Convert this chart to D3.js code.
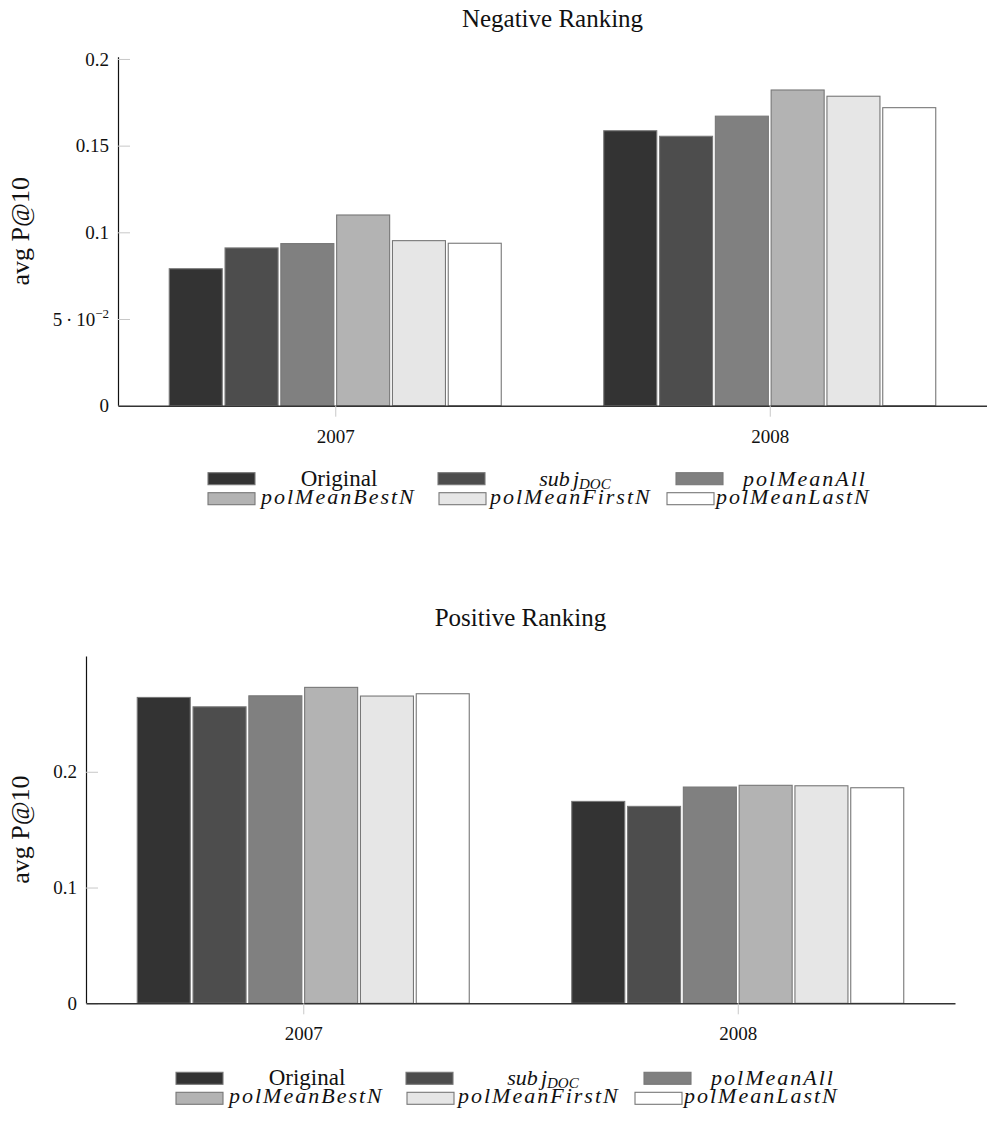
<!DOCTYPE html>
<html>
<head>
<meta charset="utf-8">
<script src="https://cdn.jsdelivr.net/npm/d3@7"></script>
<style>
  body { margin: 0; background: #fff; }
  svg { display: block; font-family: "Liberation Serif", "Times New Roman", serif; }
</style>
</head>
<body>
<svg id="fig" width="987" height="1124"></svg>
<script>
// Years on the category axis and the six ranking methods
const years = ['2007', '2008'];
const methods = ['Original', 'subjDOC', 'polMeanAll', 'polMeanBestN', 'polMeanFirstN', 'polMeanLastN'];

// avg P@10, negative ranking
const negative2007 = [0.0790, 0.0910, 0.0935, 0.1100, 0.0952, 0.0937];
const negative2008 = [0.1586, 0.1554, 0.1670, 0.1821, 0.1785, 0.1719];

// avg P@10, positive ranking
const positive2007 = [0.2642, 0.2561, 0.2656, 0.2729, 0.2654, 0.2674];
const positive2008 = [0.1744, 0.1701, 0.1868, 0.1883, 0.1879, 0.1862];

// Y tick values
const negativeTicks = [0, 0.05, 0.1, 0.15, 0.2];
const positiveTicks = [0, 0.1, 0.2];

// Grey fills, one per method
const shades = ['#333333', '#4d4d4d', '#808080', '#b3b3b3', '#e6e6e6', '#ffffff'];
const barStroke = '#777777';

const svg = d3.select('#fig');

// 0.05 is written in scientific form as 5·10^-2
function tickLabel(sel) {
  sel.each(function (d) {
    const t = d3.select(this);
    if (Math.abs(d - 0.05) < 1e-9) {
      t.text(null);
      t.append('tspan').text('5\u2009\u00B7\u200910');
      t.append('tspan').attr('font-size', 13).attr('dy', -8).text('\u22122');
    }
  });
}

function drawPanel(cfg) {
  const g = svg.append('g');
  const rows = [cfg.first, cfg.second];

  const x = d3.scalePoint().domain(years).range([cfg.left, cfg.right]).padding(0.5);
  const inner = d3.scaleBand().domain(d3.range(methods.length)).range([-166, 166]).paddingInner(0.05);
  const y = d3.scaleLinear().domain([0, cfg.yMax]).range([cfg.bottom, cfg.top]);

  // bars
  years.forEach((yr, gi) => {
    g.append('g').selectAll('rect')
      .data(rows[gi])
      .join('rect')
      .attr('x', (d, i) => x(yr) + inner(i))
      .attr('width', inner.bandwidth())
      .attr('y', d => y(d))
      .attr('height', d => y(0) - y(d))
      .attr('fill', (d, i) => shades[i])
      .attr('stroke', barStroke)
      .attr('stroke-width', 1.1);
  });

  // y axis: light ticks pointing into the plot
  const yAxis = d3.axisLeft(y)
    .tickValues(cfg.ticks)
    .tickSizeInner(-12)
    .tickSizeOuter(0)
    .tickPadding(9)
    .tickFormat(d => d === 0 ? '0' : String(+d.toFixed(3)));
  const ya = g.append('g').attr('transform', `translate(${cfg.left},0)`).call(yAxis);
  ya.attr('font-family', null);
  ya.selectAll('.tick line').attr('stroke', '#c8c8c8').attr('stroke-width', 1);
  ya.selectAll('.tick text')
    .attr('font-size', 19)
    .attr('fill', '#111')
    .call(tickLabel);
  ya.select('.domain').attr('stroke', '#111').attr('stroke-width', 1.2);

  // x axis
  const xAxis = d3.axisBottom(x).tickSizeInner(11).tickSizeOuter(0).tickPadding(0);
  const xa = g.append('g').attr('transform', `translate(0,${cfg.bottom})`).call(xAxis);
  xa.attr('font-family', null);
  xa.selectAll('.tick line').attr('stroke', '#c8c8c8').attr('stroke-width', 1);
  xa.selectAll('.tick text')
    .attr('font-size', 19)
    .attr('fill', '#111')
    .attr('dy', null)
    .attr('y', 37);
  xa.select('.domain').attr('stroke', '#333').attr('stroke-width', 1.4);

  // title
  g.append('text')
    .attr('x', (cfg.left + cfg.right) / 2)
    .attr('y', cfg.top - 30)
    .attr('text-anchor', 'middle')
    .attr('font-size', 25)
    .attr('fill', '#111')
    .text(cfg.title);

  // y label
  g.append('text')
    .attr('transform', `translate(29,${(cfg.top + cfg.bottom) / 2}) rotate(-90)`)
    .attr('text-anchor', 'middle')
    .attr('font-size', 26)
    .attr('fill', '#111')
    .text('avg P@10');

  // legend: two rows of three entries
  const lx = cfg.left + 90;
  const ly1 = cfg.bottom + cfg.legendOffset;
  const ly2 = ly1 + 20;
  const lg = g.append('g');
  const row1Swatch = [0, 230, 468];
  const row1Text = [131, 367, 597];
  const row2Swatch = [0, 231, 459];
  const row2Text = [53, 282, 508];

  methods.forEach((m, i) => {
    const row = i < 3 ? 0 : 1;
    const col = i % 3;
    const cy = row === 0 ? ly1 : ly2;
    const sx = lx + (row === 0 ? row1Swatch[col] : row2Swatch[col]);
    lg.append('rect')
      .attr('x', sx).attr('y', cy - 6)
      .attr('width', 47).attr('height', 12)
      .attr('fill', shades[i])
      .attr('stroke', barStroke)
      .attr('stroke-width', 1.1);

    const t = lg.append('text')
      .attr('y', row === 0 ? cy + 7 : cy + 5)
      .attr('font-size', 22)
      .attr('fill', '#111');
    if (row === 0) {
      t.attr('x', lx + row1Text[col]).attr('text-anchor', 'middle');
    } else {
      t.attr('x', lx + row2Text[col]).attr('text-anchor', 'start');
    }
    if (m === 'Original') {
      t.attr('font-size', 23).text(m);
    } else if (m === 'subjDOC') {
      t.attr('font-style', 'italic');
      t.append('tspan').text('sub');
      t.append('tspan').attr('dx', 3).text('j');
      t.append('tspan').attr('font-size', 15).attr('dy', 3).text('DOC');
    } else {
      t.attr('font-style', 'italic').attr('letter-spacing', 2).text(m);
    }
  });
}

drawPanel({
  title: 'Negative Ranking',
  first: negative2007, second: negative2008,
  ticks: negativeTicks, yMax: 0.2013,
  left: 118, right: 987, top: 56.7, bottom: 405.7,
  legendOffset: 73
});

drawPanel({
  title: 'Positive Ranking',
  first: positive2007, second: positive2008,
  ticks: positiveTicks, yMax: 0.3,
  left: 86, right: 955, top: 656, bottom: 1003.3,
  legendOffset: 75
});
</script>
</body>
</html>
